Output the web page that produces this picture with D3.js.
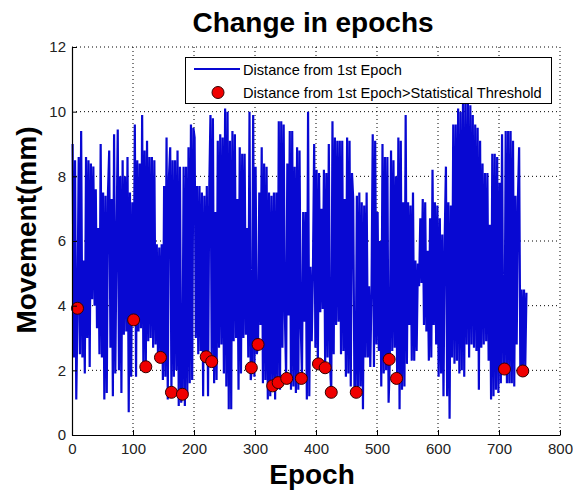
<!DOCTYPE html>
<html>
<head>
<meta charset="utf-8">
<script src="https://cdn.jsdelivr.net/npm/d3@7"></script>
<style>
  body { margin: 0; background: #fff; }
  svg { display: block; }
</style>
</head>
<body>
<script>
// distance from 1st epoch, one value every 2nd epoch (1, 3, 5, ... 745)
var movement = [
  9.0, 2.4, 8.5, 1.1, 3.9, 8.6, 2.5, 9.4, 2.4, 5.4,
  1.9, 8.6, 3.0, 8.5, 2.1, 8.4, 4.2, 8.3, 4.0, 7.6,
  3.3, 6.4, 2.5, 9.0, 2.4, 7.5, 1.1, 7.4, 1.3, 7.5,
  8.8, 2.7, 7.3, 1.2, 9.3, 1.9, 6.0, 9.45, 2.0, 8.0,
  1.3, 8.5, 3.1, 8.0, 3.2, 8.6, 0.7, 7.5, 1.8, 7.2,
  3.6, 9.6, 1.8, 8.5, 3.2, 8.4, 3.3, 9.9, 2.1, 8.8,
  2.1, 9.1, 2.9, 8.6, 3.0, 8.6, 2.7, 8.5, 2.8, 5.9,
  2.4, 5.8, 2.4, 5.9, 1.7, 7.7, 1.8, 9.2, 1.1, 8.0,
  8.9, 1.3, 8.5, 1.8, 8.5, 2.0, 8.8, 0.9, 8.3, 1.0,
  1.3, 8.3, 0.9, 8.3, 1.3, 8.9, 1.6, 9.6, 1.7, 9.5,
  9.2, 3.0, 7.7, 2.5, 7.7, 2.6, 7.5, 1.2, 7.4, 2.4,
  7.7, 1.2, 7.6, 9.9, 2.3, 9.8, 1.6, 6.9, 1.7, 9.1,
  2.7, 9.3, 2.8, 9.2, 1.9, 10.1, 1.5, 10.0, 0.8, 9.1,
  0.8, 9.4, 2.9, 9.3, 3.0, 7.3, 1.4, 8.9, 1.9, 8.7,
  3.0, 8.7, 3.1, 6.4, 2.4, 10.0, 1.7, 2.1, 9.9, 1.8,
  8.3, 2.5, 2.8, 7.5, 3.4, 8.9, 1.6, 8.4, 1.7, 8.3,
  1.1, 7.5, 1.2, 7.4, 1.5, 7.5, 1.1, 7.5, 1.6, 9.7,
  1.4, 9.7, 2.7, 9.6, 3.7, 1.8, 8.4, 3.7, 9.4, 1.4,
  9.4, 1.5, 8.3, 1.3, 8.9, 1.4, 8.8, 3.4, 1.8, 6.9,
  3.5, 6.9, 1.1, 10.0, 1.2, 5.2, 2.9, 5.1, 9.0, 2.7,
  8.2, 2.2, 8.1, 3.8, 7.0, 3.9, 8.2, 2.1, 8.1, 2.4,
  9.0, 2.2, 1.3, 9.7, 2.5, 9.2, 3.4, 9.1, 3.5, 9.1,
  2.5, 9.1, 2.6, 7.3, 1.8, 9.2, 1.9, 9.1, 1.5, 8.1,
  7.3, 1.5, 1.3, 7.4, 1.4, 7.5, 1.5, 7.2, 0.8, 7.1,
  2.4, 7.5, 2.4, 4.6, 2.1, 4.5, 9.3, 2.1, 9.1, 2.8,
  6.9, 2.6, 6.0, 1.5, 9.0, 1.9, 8.6, 2.0, 8.6, 1.0,
  2.3, 8.8, 2.6, 8.5, 2.7, 8.0, 1.8, 9.2, 0.8, 9.1,
  1.4, 7.2, 1.5, 9.9, 2.2, 7.2, 3.4, 7.1, 2.3, 7.5,
  2.3, 5.4, 2.6, 5.3, 4.6, 6.7, 4.7, 7.3, 3.4, 7.2,
  3.2, 5.7, 2.3, 6.7, 2.4, 8.2, 3.4, 7.2, 2.8, 7.1,
  1.8, 6.7, 1.9, 6.2, 1.2, 6.1, 8.3, 1.2, 7.2, 0.5,
  7.1, 2.4, 9.6, 2.2, 9.6, 2.3, 10.1, 1.9, 10.0, 2.0,
  10.3, 1.8, 10.3, 2.8, 10.3, 2.4, 10.2, 2.8, 9.9, 2.7,
  9.6, 2.6, 9.5, 1.4, 9.1, 2.7, 8.4, 2.8, 8.1, 2.9,
  8.1, 2.3, 6.5, 1.1, 8.7, 1.2, 8.7, 1.4, 8.6, 1.3,
  7.8, 1.6, 9.3, 2.1, 2.0, 9.4, 1.6, 9.4, 1.6, 9.4,
  1.6, 9.1, 1.5, 7.4, 2.8, 7.3, 8.9, 1.9, 4.5, 2.0,
  4.5, 2.1, 4.4
];

// epochs flagged above the statistical threshold
var flagEpochs = [9, 101, 121, 145, 163, 181, 220, 229, 294, 305, 329, 338, 352, 376, 404, 415, 425, 466, 520, 532, 709, 739];
var flagValues = [3.92, 3.56, 2.11, 2.40, 1.32, 1.26, 2.42, 2.27, 2.08, 2.80, 1.52, 1.62, 1.75, 1.75, 2.20, 2.08, 1.32, 1.32, 2.34, 1.75, 2.04, 1.98];

var xTicks = [0, 100, 200, 300, 400, 500, 600, 700, 800];
var yTicks = [0, 2, 4, 6, 8, 10, 12];

var width = 573, height = 492;
var padLeft = 72, padRight = 560, padTop = 47, padBottom = 435;

var blue = '#0808d2';

const xScale = d3.scaleLinear().domain([0, 800]).range([padLeft, padRight]);
const yScale = d3.scaleLinear().domain([0, 12]).range([padBottom, padTop]);

const svg = d3.select('body').append('svg')
  .attr('width', width)
  .attr('height', height)
  .style('font-family', '"Liberation Sans", Arial, sans-serif');

// dotted grid
svg.append('g').selectAll('line')
  .data(xTicks.slice(1))
  .enter().append('line')
  .attr('x1', d => xScale(d)).attr('x2', d => xScale(d))
  .attr('y1', padTop).attr('y2', padBottom)
  .attr('stroke', '#000').attr('stroke-width', 1)
  .attr('stroke-dasharray', '1,3');

svg.append('g').selectAll('line')
  .data(yTicks.slice(1))
  .enter().append('line')
  .attr('x1', padLeft).attr('x2', padRight)
  .attr('y1', d => yScale(d)).attr('y2', d => yScale(d))
  .attr('stroke', '#000').attr('stroke-width', 1)
  .attr('stroke-dasharray', '1,3');

const line = d3.line()
  .x((d, i) => xScale(1 + i * 2))
  .y(d => yScale(d));

svg.append('path')
  .datum(movement)
  .attr('d', line)
  .attr('fill', 'none')
  .attr('stroke', blue)
  .attr('stroke-width', 2.2)
  .attr('stroke-linejoin', 'bevel');

svg.selectAll('circle.flag')
  .data(flagEpochs)
  .enter().append('circle')
  .attr('class', 'flag')
  .attr('cx', d => xScale(d))
  .attr('cy', (d, i) => yScale(flagValues[i]))
  .attr('r', 6)
  .attr('fill', '#f00000')
  .attr('stroke', '#300')
  .attr('stroke-width', 1);

// axes, ticks pointing inwards
const xAxis = d3.axisBottom(xScale).tickValues(xTicks).tickSizeInner(-5).tickSizeOuter(0).tickPadding(8);
const yAxis = d3.axisLeft(yScale).tickValues(yTicks).tickSizeInner(-5).tickSizeOuter(0).tickPadding(6);

const gx = svg.append('g')
  .attr('transform', 'translate(0,' + padBottom + ')')
  .call(xAxis);
const gy = svg.append('g')
  .attr('transform', 'translate(' + padLeft + ',0)')
  .call(yAxis);

[gx, gy].forEach(g => {
  g.select('.domain').attr('stroke', '#000').attr('stroke-width', 1.2);
  g.selectAll('.tick line').attr('stroke', '#000');
  g.selectAll('.tick text')
    .attr('fill', '#222')
    .style('font-family', '"Liberation Sans Narrow", "Liberation Sans", Arial, sans-serif')
    .style('font-size', '15px');
});

// titles
svg.append('text')
  .attr('x', 313).attr('y', 32)
  .attr('text-anchor', 'middle')
  .style('font-size', '28px').style('font-weight', 'bold')
  .text('Change in epochs');

svg.append('text')
  .attr('x', 312).attr('y', 484)
  .attr('text-anchor', 'middle')
  .style('font-size', '28px').style('font-weight', 'bold')
  .text('Epoch');

svg.append('text')
  .attr('transform', 'translate(36,230) rotate(-90)')
  .attr('text-anchor', 'middle')
  .style('font-size', '28px').style('font-weight', 'bold')
  .text('Movement(mm)');

// legend
const legend = svg.append('g');
legend.append('rect')
  .attr('x', 185.5).attr('y', 57.5)
  .attr('width', 366).attr('height', 46)
  .attr('fill', '#fff').attr('stroke', '#000').attr('stroke-width', 1);
legend.append('line')
  .attr('x1', 194).attr('x2', 240)
  .attr('y1', 69).attr('y2', 69)
  .attr('stroke', blue).attr('stroke-width', 2);
legend.append('circle')
  .attr('cx', 218).attr('cy', 92.5).attr('r', 6)
  .attr('fill', '#f00000').attr('stroke', '#300');
legend.append('text')
  .attr('x', 243).attr('y', 74.5)
  .style('font-size', '14.6px')
  .text('Distance from 1st Epoch');
legend.append('text')
  .attr('x', 243).attr('y', 97.5)
  .style('font-size', '14.6px')
  .text('Distance from 1st Epoch>Statistical Threshold');
</script>
</body>
</html>
